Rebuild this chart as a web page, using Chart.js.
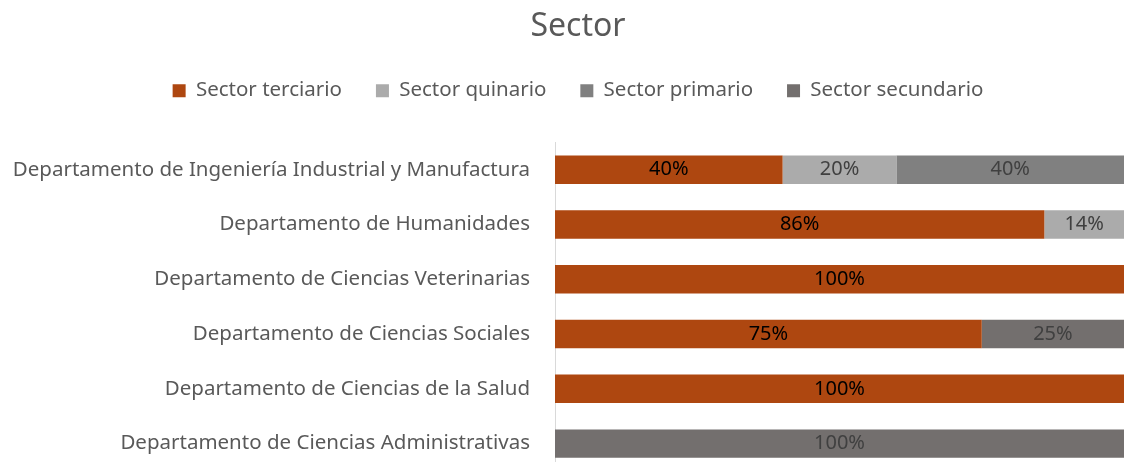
<!DOCTYPE html>
<html>
<head>
<meta charset="utf-8">
<script src="https://cdn.jsdelivr.net/npm/chart.js@4"></script>
<style>
html, body { margin: 0; padding: 0; background: #fff; overflow: hidden; }
canvas { display: block; }
</style>
</head>
<body>
<canvas id="sectorChart" width="1124" height="471"></canvas>
<script>
const departments = [
    'Departamento de Ingeniería Industrial y Manufactura',
    'Departamento de Humanidades',
    'Departamento de Ciencias Veterinarias',
    'Departamento de Ciencias Sociales',
    'Departamento de Ciencias de la Salud',
    'Departamento de Ciencias Administrativas'
];
const terciario = [40, 86, 100, 75, 100, 0];
const quinario = [20, 14, 0, 0, 0, 0];
const primario = [40, 0, 0, 0, 0, 0];
const secundario = [0, 0, 0, 25, 0, 100];

const fontFamily = '"Noto Sans", sans-serif';

// draws the % value in the middle of each segment
const barLabels = {
    id: 'barLabels',
    afterDatasetsDraw(chart) {
        const ctx = chart.ctx;
        chart.data.datasets.forEach((ds, i) => {
            const meta = chart.getDatasetMeta(i);
            meta.data.forEach((bar, j) => {
                const v = ds.data[j];
                if (!v) return;
                ctx.save();
                ctx.font = '20px ' + fontFamily;
                ctx.fillStyle = ds.labelColor;
                ctx.textAlign = 'center';
                ctx.textBaseline = 'middle';
                ctx.fillText(v + '%', (bar.x + bar.base) / 2, bar.y);
                ctx.restore();
            });
        });
    }
};

// extra space between legend and bars; let the long labels use the left margin
const layoutFix = {
    id: 'layoutFix',
    beforeInit(chart) {
        const fit = chart.legend.fit;
        chart.legend.fit = function () {
            fit.call(this);
            this.height += 31.5;
        };
    },
    afterLayout(chart) {
        chart.scales.y.left = 0;
    }
};

new Chart(document.getElementById('sectorChart'), {
    type: 'bar',
    data: {
        labels: departments,
        datasets: [
            { label: 'Sector terciario', data: terciario, backgroundColor: '#AE4710', labelColor: '#000000' },
            { label: 'Sector quinario', data: quinario, backgroundColor: '#ABABAB', labelColor: '#404040' },
            { label: 'Sector primario', data: primario, backgroundColor: '#808080', labelColor: '#404040' },
            { label: 'Sector secundario', data: secundario, backgroundColor: '#736F6E', labelColor: '#404040' }
        ]
    },
    options: {
        indexAxis: 'y',
        responsive: false,
        animation: false,
        datasets: {
            bar: { categoryPercentage: 1, barPercentage: 0.52 }
        },
        layout: { padding: { left: 32, right: 0, top: 0, bottom: 0 } },
        scales: {
            x: { stacked: true, min: 0, max: 100, display: false },
            y: {
                stacked: true,
                grid: { display: false, drawTicks: false },
                border: { display: true, color: '#D9D9D9', width: 1 },
                ticks: { color: '#595959', padding: 25, font: { family: fontFamily, size: 20.5 } },
                afterFit(scale) {
                    scale.width = 523;
                    scale.paddingTop = 0;
                    scale.paddingBottom = 0;
                }
            }
        },
        plugins: {
            title: {
                display: true,
                text: 'Sector',
                color: '#595959',
                font: { family: fontFamily, size: 32, weight: 'normal' },
                padding: { top: 8, bottom: 0 }
            },
            legend: {
                display: true,
                position: 'top',
                labels: {
                    color: '#595959',
                    boxWidth: 13,
                    boxHeight: 13,
                    padding: 34,
                    font: { family: fontFamily, size: 20.5 }
                }
            },
            tooltip: { enabled: false }
        }
    },
    plugins: [barLabels, layoutFix]
});
</script>
</body>
</html>
